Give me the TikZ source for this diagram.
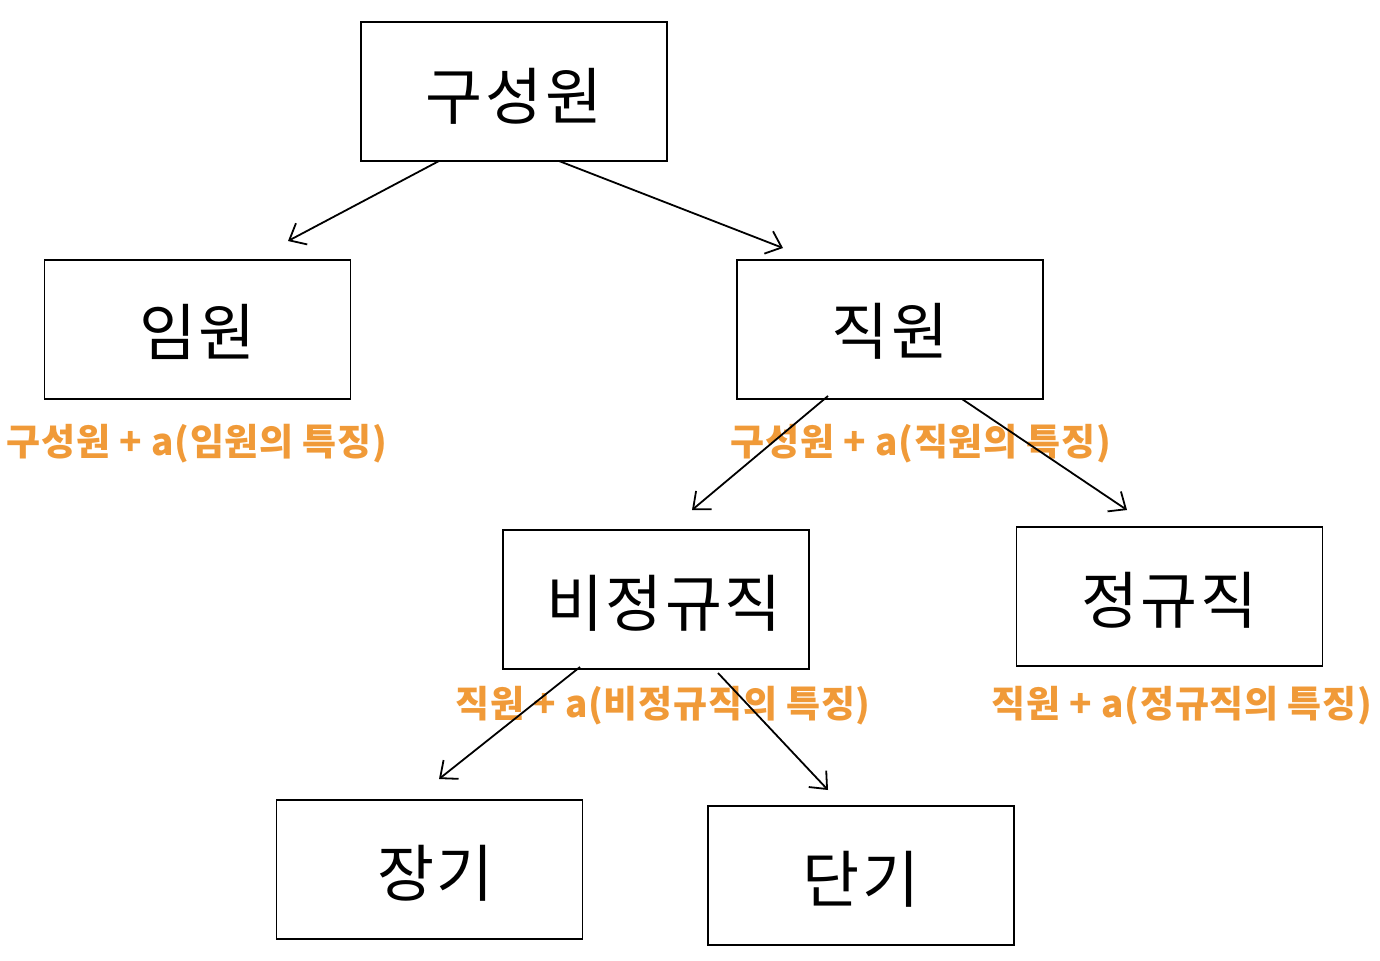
\documentclass[tikz,border=0pt]{standalone}
\usepackage{fontspec}
\newfontfamily\krbox[LetterSpace=4]{Noto Sans CJK KR}
\newfontfamily\krlbl[LetterSpace=2]{Noto Sans CJK KR}
\usetikzlibrary{arrows.meta}
\definecolor{lblorange}{HTML}{F09A38}
\tikzset{
  box/.style={draw=black, line width=0.8pt, minimum width=153pt, minimum height=69.5pt, inner sep=0pt},
  boxtext/.style={font=\krbox\fontsize{31}{34}\selectfont, inner sep=0pt},
  lbl/.style={text=lblorange, font=\krlbl\bfseries\fontsize{18.5}{20}\selectfont, inner sep=0pt},
  conn/.style={draw=black, line width=0.9pt, -{Straight Barb[length=7pt,width=12pt,line width=0.9pt]}}
}
\begin{document}
\begin{tikzpicture}[x=0.5pt,y=-0.5pt]
\useasboundingbox (0,0) rectangle (1380,960);
\node[box] (root) at (514,91.5) {};
\node[box] (exec) at (197.5,329.5) {};
\node[box] (staff) at (890,329.5) {};
\node[box] (temp) at (656,599.5) {};
\node[box] (perm) at (1169.5,596.5) {};
\node[box] (long) at (429.5,869.5) {};
\node[box] (short) at (861,875.5) {};
\node[boxtext] (troot) at ([yshift=-2.5pt]root.center) {구성원};
\node[boxtext] (texec) at ([yshift=-1pt]exec.center) {임원};
\node[boxtext] (tstaff) at ([yshift=-1pt]staff.center) {직원};
\node[boxtext] (ttemp) at ([xshift=4pt,yshift=-2pt]temp.center) {비정규직};
\node[boxtext] (tperm) at ([yshift=-2pt]perm.center) {정규직};
\node[boxtext] (tlong) at ([xshift=3pt,yshift=-2pt]long.center) {장기};
\node[boxtext] (tshort) at ([yshift=-2pt]short.center) {단기};
\node[lbl] (lexec) at (197,444) {구성원 + a(임원의 특징)};
\node[lbl] (lstaff) at (921,444) {구성원 + a(직원의 특징)};
\node[lbl] (ltemp) at (663,706) {직원 + a(비정규직의 특징)};
\node[lbl] (lperm) at (1182,706) {직원 + a(정규직의 특징)};
\coordinate (r1) at (439,161);
\coordinate (r2) at (559,161);
\coordinate (e1) at (288,241);
\coordinate (s0) at (783,248);
\coordinate (s1) at (828,396);
\coordinate (s2) at (962,399);
\coordinate (t0) at (692,510);
\coordinate (p0) at (1127,510);
\coordinate (t1) at (580,667);
\coordinate (t2) at (718,673);
\coordinate (l0) at (439,779);
\coordinate (h0) at (828,790);
\draw[conn] (r1) -- (e1);
\draw[conn] (r2) -- (s0);
\draw[conn] (s1) -- (t0);
\draw[conn] (s2) -- (p0);
\draw[conn] (t1) -- (l0);
\draw[conn] (t2) -- (h0);
\end{tikzpicture}
\end{document}
